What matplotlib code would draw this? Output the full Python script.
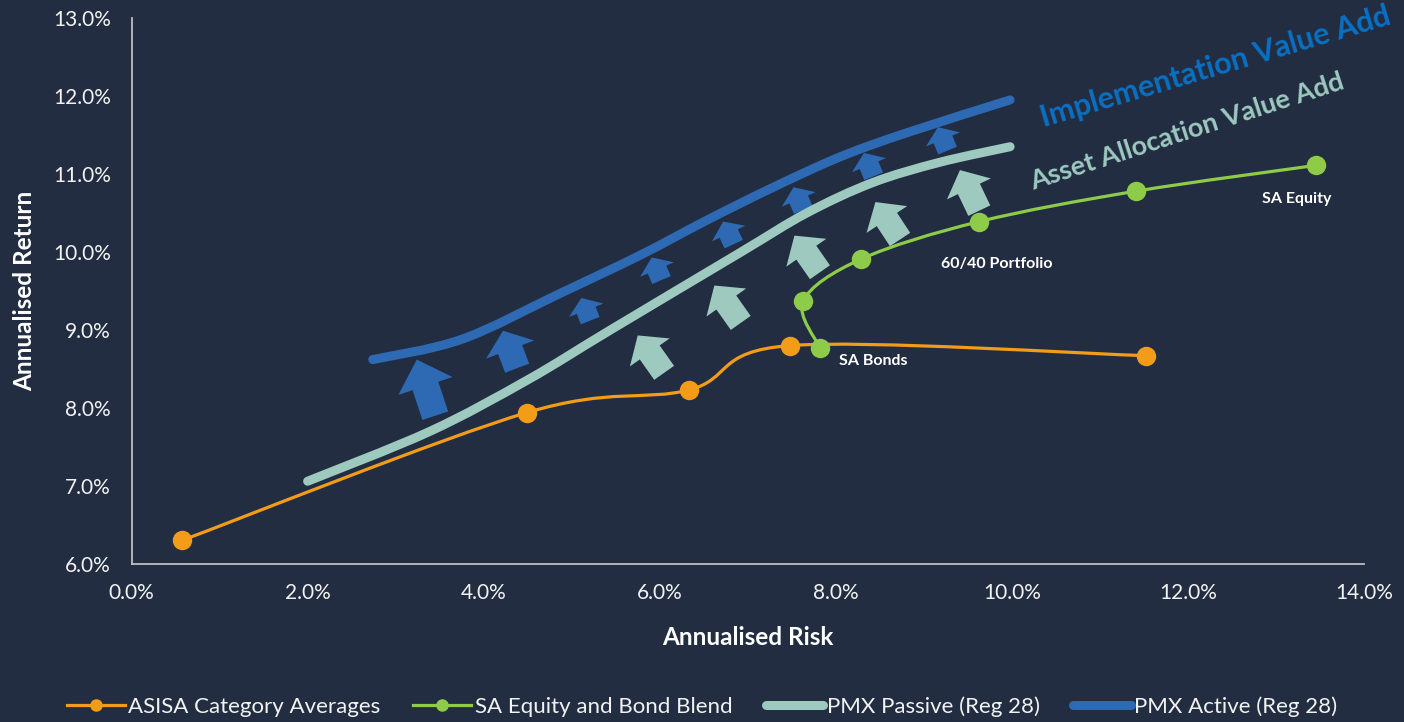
import numpy as np
import matplotlib
matplotlib.use('Agg')
import matplotlib.pyplot as plt
from matplotlib.path import Path
from matplotlib.patches import PathPatch
from matplotlib.lines import Line2D
from matplotlib.ticker import FuncFormatter

# ---- data (annualised risk %, annualised return %) ----
asisa_x = [0.57, 4.49, 6.33, 7.48, 11.52]
asisa_y = [6.30, 7.94, 8.23, 8.80, 8.67]

blend_x = [7.82, 7.63, 8.29, 9.63, 11.41, 13.45]
blend_y = [8.77, 9.37, 9.91, 10.39, 10.78, 11.11]

passive_x = [2.00, 3.39, 4.50, 5.44, 6.91, 7.67, 8.42, 9.18, 9.98]
passive_y = [7.06, 7.70, 8.36, 9.00, 9.99, 10.50, 10.89, 11.15, 11.35]

active_x = [2.74, 3.75, 4.87, 5.78, 6.54, 7.29, 8.05, 8.81, 9.98]
active_y = [8.62, 8.88, 9.47, 9.96, 10.41, 10.83, 11.22, 11.53, 11.95]

# arrows: (tail x, tail y, tip x, tip y)
impl_arrows = [(3.45, 7.90, 3.24, 8.62),
               (4.38, 8.51, 4.22, 8.99),
               (5.21, 9.12, 5.11, 9.41),
               (6.02, 9.64, 5.91, 9.93),
               (6.84, 10.10, 6.72, 10.39),
               (7.63, 10.54, 7.52, 10.83),
               (8.43, 10.97, 8.32, 11.27),
               (9.27, 11.30, 9.16, 11.60)]
alloc_arrows = [(6.05, 8.45, 5.75, 8.93),
                (6.92, 9.09, 6.62, 9.57),
                (7.82, 9.74, 7.53, 10.21),
                (8.73, 10.16, 8.45, 10.64),
                (9.63, 10.53, 9.41, 11.05)]

labels = ['ASISA Category Averages', 'SA Equity and Bond Blend',
          'PMX Passive (Reg 28)', 'PMX Active (Reg 28)']

bg = '#222D42'
c_orange = '#F39C18'
c_green = '#8DCB48'
c_teal = '#9DC9BF'
c_blue = '#2E6AB4'
c_txt = '#F2F2F2'

plt.rcParams['font.family'] = ['Lato', 'DejaVu Sans']


def smooth_path(xs, ys):
    # catmull-rom style bezier segments, like a spreadsheet "smoothed line"
    p = np.column_stack([xs, ys]).astype(float)
    n = len(p)
    verts = [p[0]]
    codes = [Path.MOVETO]
    for i in range(n - 1):
        p0 = p[i - 1] if i > 0 else p[i]
        p1 = p[i]
        p2 = p[i + 1]
        p3 = p[i + 2] if i + 2 < n else p[i + 1]
        c1 = p1 + (p2 - p0) / 6.0
        c2 = p2 - (p3 - p1) / 6.0
        verts += [c1, c2, p2]
        codes += [Path.CURVE4] * 3
    return Path(verts, codes)


fig = plt.figure(figsize=(14.04, 7.22), dpi=100, facecolor=bg)
ax = fig.add_axes([0.0937, 0.219, 0.8778, 0.756])
ax.set_facecolor(bg)

ax.add_patch(PathPatch(smooth_path(passive_x, passive_y), fc='none', ec=c_teal,
                       lw=6.5, capstyle='round', zorder=3))
ax.add_patch(PathPatch(smooth_path(active_x, active_y), fc='none', ec=c_blue,
                       lw=6.5, capstyle='round', zorder=3))
ax.add_patch(PathPatch(smooth_path(asisa_x, asisa_y), fc='none', ec=c_orange,
                       lw=2.3, zorder=4))
ax.add_patch(PathPatch(smooth_path(blend_x, blend_y), fc='none', ec=c_green,
                       lw=2.3, zorder=5))
ax.plot(asisa_x, asisa_y, 'o', color=c_orange, ms=14, mec='none', zorder=4)
ax.plot(blend_x, blend_y, 'o', color=c_green, ms=14, mec='none', zorder=5)

# value add arrows
for i, (x0, y0, x1, y1) in enumerate(impl_arrows):
    if i == 0:
        st = 'simple,head_length=20,head_width=41,tail_width=19.5'
    elif i == 1:
        st = 'simple,head_length=14.5,head_width=37,tail_width=18.5'
    else:
        st = 'simple,head_length=9.5,head_width=26.5,tail_width=14.5'
    ax.annotate('', xy=(x1, y1), xytext=(x0, y0),
                arrowprops=dict(arrowstyle=st, mutation_scale=1, fc=c_blue,
                                ec='none', shrinkA=0, shrinkB=0), zorder=2)
for (x0, y0, x1, y1) in alloc_arrows:
    ax.annotate('', xy=(x1, y1), xytext=(x0, y0),
                arrowprops=dict(arrowstyle='simple,head_length=15,head_width=35,tail_width=17.5',
                                mutation_scale=1, fc=c_teal, ec='none',
                                shrinkA=0, shrinkB=0), zorder=2)

# point labels
ax.text(13.24, 10.68, 'SA Equity', color='white', fontsize=11.5, fontweight='bold',
        ha='center', va='center')
ax.text(9.83, 9.85, '60/40 Portfolio', color='white', fontsize=11.5, fontweight='bold',
        ha='center', va='center')
ax.text(8.43, 8.60, 'SA Bonds', color='white', fontsize=11.5, fontweight='bold',
        ha='center', va='center')

ax.text(12.31, 12.37, 'Implementation Value Add', color='#0A70C2', fontsize=22,
        fontweight='bold', rotation=16.5, ha='center', va='center',
        rotation_mode='anchor', clip_on=False)
ax.text(11.99, 11.55, 'Asset Allocation Value Add', color=c_teal, fontsize=19.5,
        fontweight='bold', rotation=18, ha='center', va='center',
        rotation_mode='anchor', clip_on=False)

ax.set_xlim(0, 14)
ax.set_ylim(6, 13)
ax.set_xticks(np.arange(0, 15, 2))
ax.set_yticks(np.arange(6, 14, 1))
ax.xaxis.set_major_formatter(FuncFormatter(lambda v, p: '%.1f%%' % v))
ax.yaxis.set_major_formatter(FuncFormatter(lambda v, p: '%.1f%%' % v))
ax.tick_params(length=0, labelsize=15, colors=c_txt, pad=14)
ax.tick_params(axis='y', pad=15)
for s in ['top', 'right']:
    ax.spines[s].set_visible(False)
for s in ['left', 'bottom']:
    ax.spines[s].set_color('#BFBFBF')
    ax.spines[s].set_linewidth(1.3)

ax.set_xlabel('Annualised Risk', color='white', fontsize=17.5, fontweight='bold',
              labelpad=16)
ax.set_ylabel('Annualised Return', color='white', fontsize=17.5, fontweight='bold',
              labelpad=12)

handles = [Line2D([], [], color=c_orange, lw=2.3, marker='o', ms=9, mec='none'),
           Line2D([], [], color=c_green, lw=2.3, marker='o', ms=9, mec='none'),
           Line2D([], [], color=c_teal, lw=6.5, solid_capstyle='round'),
           Line2D([], [], color=c_blue, lw=6.5, solid_capstyle='round')]
leg = fig.legend(handles, labels, loc='center', bbox_to_anchor=(0.5, 0.021),
                 ncol=4, frameon=False, fontsize=16, handlelength=2.6,
                 handletextpad=0.15, columnspacing=1.5, labelcolor=c_txt)

fig.savefig('out.png', dpi=100, facecolor=bg)
